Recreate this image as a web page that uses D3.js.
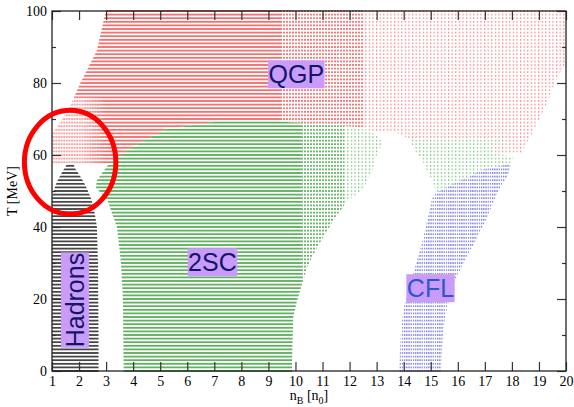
<!DOCTYPE html>
<html>
<head>
<meta charset="utf-8">
<script src="https://cdn.jsdelivr.net/npm/d3@7"></script>
<style>
body { margin: 0; background: #fff; }
svg { display: block; }
</style>
</head>
<body>
<svg id="chart" width="574" height="407"></svg>
<script>
// phase boundaries as outlines, n_B [n_0] and T [MeV]
var qgpN = [3.0, 20, 20, 19.9, 19.6, 19.35, 19.05, 18.75, 18.45, 18.4, 17.3, 17.3, 17.8, 14.2, 13.7, 12.9, 12.3, 11.5, 9.3, 7.2, 6.2, 5.25, 4.4, 3.7, 3.15, 1, 1, 1.6, 2.05, 2.66];
var qgpT = [100.4, 100.4, 86, 84.4, 80.5, 75.2, 70.5, 66, 62, 60.5, 60.5, 62, 64.5, 64.5, 66.3, 66.3, 67.8, 68.2, 69.4, 69.4, 68.3, 67.3, 64, 61, 57.6, 57.6, 66, 72.4, 80, 89];

var scN = [3.65, 3.62, 3.55, 3.4, 3.05, 2.62, 2.66, 3.05, 3.7, 4.4, 5.25, 6.2, 7.2, 9.3, 11.5, 12.3, 12.9, 13.25, 13.0, 12.85, 12.5, 11.9, 11.5, 11.1, 10.74, 10.44, 10.25, 10.06, 9.92, 9.88, 9.87];
var scT = [-0.4, 20, 30, 40, 47.4, 51, 53, 57, 61, 64, 67.3, 68.3, 69.4, 69.4, 68.2, 67.8, 66, 63.5, 60, 56, 50.5, 47, 43, 38.1, 33.5, 28.9, 24.3, 19.6, 15, 5, -0.4];

var scWedgeN = [15.2, 15.1, 14.98, 14.8, 14.7, 14.4, 14.2, 17.8, 17.3, 17.3, 18.1, 17.9, 16.8, 16.46, 15.83, 15.35];
var scWedgeT = [49.5, 52, 54, 56.5, 58.5, 61.3, 64.5, 64.5, 62, 60.5, 59.5, 57.5, 55.7, 54, 52, 50];

var cflN = [13.82, 13.84, 13.91, 14.02, 14.43, 14.6, 14.73, 14.9, 15.06, 15.2, 15.35, 15.83, 16.46, 16.8, 17.9, 17.95, 17.83, 17.65, 17.5, 17.39, 17.09, 16.8, 16.46, 16.2, 15.9, 15.61, 15.47, 15.39, 15.38];
var cflT = [-0.4, 3, 12, 18, 29, 33.5, 37.2, 42.7, 48.3, 49.5, 50, 52, 54, 55.7, 57.5, 57, 54, 52, 50, 48.3, 42.7, 38.2, 33.5, 29.9, 25.2, 18, 12, 3, -0.4];

var hadronN = [1, 1, 1.09, 1.18, 1.31, 1.45, 1.55, 1.8, 1.86, 2.02, 2.17, 2.29, 2.42, 2.54, 2.62, 2.66, 2.7, 2.72, 2.72];
var hadronT = [-0.4, 48.3, 50.7, 52.5, 54.4, 56.2, 57.4, 57.4, 56.2, 54.4, 52.5, 50.7, 48.3, 45.6, 42, 40, 30, 10, -0.4];

var labelText = ["QGP", "2SC", "Hadrons", "CFL"];
var labelN = [10.03, 6.93, 1.85, 14.99];
var labelT = [82.4, 30.2, 19.7, 23.0];

var xTicks = [1, 2, 3, 4, 5, 6, 7, 8, 9, 10, 11, 12, 13, 14, 15, 16, 17, 18, 19, 20];
var yTicks = [0, 20, 40, 60, 80, 100];
var yMinor = [10, 30, 50, 70, 90];

// circled region
var ringN = 1.67, ringT = 58, ringRN = 1.69, ringRT = 14.4;

var serif = "'Liberation Serif', 'Times New Roman', Times, serif";

var svg = d3.select("#chart"),
    margin = {top: 11, right: 8, bottom: 36, left: 52},
    width = +svg.attr("width") - margin.left - margin.right,
    height = +svg.attr("height") - margin.top - margin.bottom,
    g = svg.append("g").attr("transform", "translate(" + margin.left + "," + margin.top + ")");

var x = d3.scaleLinear().domain([1, 20]).range([0, width]);
var y = d3.scaleLinear().domain([0, 100]).range([height, 0]);

var defs = svg.append("defs");
var rowH = y(0) - y(1);

function hatch(id, color, period, dash, thick) {
  var p = defs.append("pattern").attr("id", id)
      .attr("patternUnits", "userSpaceOnUse")
      .attr("x", 0).attr("y", y(0) - rowH / 2)
      .attr("width", period).attr("height", rowH);
  p.append("rect")
      .attr("x", 0).attr("y", rowH / 2 - thick / 2)
      .attr("width", dash).attr("height", thick)
      .attr("fill", color);
}
hatch("redSolid", "#ee3a3a", 6, 6, 1.3);
hatch("redDash", "#ee3a3a", 3, 2, 1.2);
hatch("redDot", "#ee3a3a", 3.6, 1.2, 1.0);
hatch("greenSolid", "#239523", 6, 6, 1.3);
hatch("greenDash", "#239523", 3, 2, 1.2);
hatch("greenDot", "#2a9a2a", 3.6, 1.2, 1.0);
hatch("blueDot", "#3535d5", 2.2, 1.3, 1.1);
hatch("blackSolid", "#111", 6, 6, 1.4);

// white stripes that wash out the red near the hadron tip, fading to the right
var fade = defs.append("pattern").attr("id", "fade")
    .attr("patternUnits", "userSpaceOnUse")
    .attr("width", 2.6).attr("height", 10);
fade.append("rect").attr("width", 2.6).attr("height", 10).attr("fill", "#fff").attr("opacity", 0.3);
fade.append("rect").attr("width", 1.1).attr("height", 10).attr("fill", "#fff").attr("opacity", 0.7);

var grad = defs.append("linearGradient").attr("id", "fadeGrad")
    .attr("x1", 0).attr("x2", 1).attr("y1", 0).attr("y2", 0);
grad.append("stop").attr("offset", 0).attr("stop-color", "#fff");
grad.append("stop").attr("offset", 0.55).attr("stop-color", "#fff");
grad.append("stop").attr("offset", 1).attr("stop-color", "#000");
var mask = defs.append("mask").attr("id", "fadeMask")
    .attr("maskUnits", "userSpaceOnUse")
    .attr("x", 0).attr("y", 0).attr("width", width).attr("height", height);
mask.append("rect")
    .attr("x", x(1)).attr("y", y(76))
    .attr("width", x(3) - x(1)).attr("height", y(57.7) - y(76))
    .attr("fill", "url(#fadeGrad)");

var clipCount = 0;
function band(n0, n1) {
  var id = "band" + (clipCount++);
  defs.append("clipPath").attr("id", id).append("rect")
      .attr("x", x(n0)).attr("y", -5)
      .attr("width", x(n1) - x(n0)).attr("height", height + 10);
  return id;
}

function region(ns, ts, zones) {
  var d = d3.line()(ns.map(function(n, i) { return [x(n), y(ts[i])]; })) + "Z";
  zones.forEach(function(z) {
    g.append("path")
        .attr("d", d)
        .attr("fill", "url(#" + z[2] + ")")
        .attr("clip-path", "url(#" + band(z[0], z[1]) + ")");
  });
}

region(qgpN, qgpT, [[1, 9.5, "redSolid"], [9.5, 12.5, "redDash"], [12.5, 20, "redDot"]]);
region(scN, scT, [[1, 10.2, "greenSolid"], [10.2, 11.8, "greenDash"], [11.8, 20, "greenDot"]]);
region(scWedgeN, scWedgeT, [[1, 20, "greenDot"]]);
region(cflN, cflT, [[1, 20, "blueDot"]]);
region(hadronN, hadronT, [[1, 20, "blackSolid"]]);

g.append("rect")
    .attr("x", x(1)).attr("y", y(76))
    .attr("width", x(3) - x(1)).attr("height", y(57.7) - y(76))
    .attr("fill", "url(#fade)")
    .attr("mask", "url(#fadeMask)");

// axes, ticks pointing inwards
function clean(sel) {
  sel.select(".domain").remove();
  sel.attr("font-family", serif).attr("font-size", 14);
  sel.selectAll("line").attr("stroke", "#333").attr("stroke-width", 1.2);
  sel.selectAll("text").attr("fill", "#000");
}

g.append("g")
    .attr("transform", "translate(0," + height + ")")
    .call(d3.axisBottom(x).tickValues(xTicks).tickSize(-9).tickPadding(5).tickFormat(d3.format("d")))
    .call(clean);
g.append("g")
    .call(d3.axisTop(x).tickValues(xTicks).tickSize(-9).tickFormat(""))
    .call(clean);
g.append("g")
    .call(d3.axisLeft(y).tickValues(yTicks).tickSize(-9).tickPadding(5).tickFormat(d3.format("d")))
    .call(clean);
g.append("g")
    .call(d3.axisLeft(y).tickValues(yMinor).tickSize(-4).tickFormat(""))
    .call(clean);
g.append("g")
    .attr("transform", "translate(" + width + ",0)")
    .call(d3.axisRight(y).tickValues(yTicks).tickSize(-9).tickFormat(""))
    .call(clean);
g.append("g")
    .attr("transform", "translate(" + width + ",0)")
    .call(d3.axisRight(y).tickValues(yMinor).tickSize(-4).tickFormat(""))
    .call(clean);

g.append("rect")
    .attr("width", width).attr("height", height)
    .attr("fill", "none").attr("stroke", "#222").attr("stroke-width", 1.3);

// axis titles
svg.append("text")
    .attr("transform", "translate(17," + (margin.top + y(50)) + ") rotate(-90)")
    .attr("text-anchor", "middle")
    .attr("font-family", serif).attr("font-size", 14)
    .text("T [MeV]");

var xt = svg.append("text")
    .attr("x", margin.left + width / 2).attr("y", 400)
    .attr("text-anchor", "middle")
    .attr("font-family", serif).attr("font-size", 14);
xt.append("tspan").text("n");
xt.append("tspan").attr("dy", 4).attr("font-size", 10).text("B");
xt.append("tspan").attr("dy", -4).text(" [n");
xt.append("tspan").attr("dy", 4).attr("font-size", 10).text("0");
xt.append("tspan").attr("dy", -4).text("]");

// phase labels on lavender boxes
labelText.forEach(function(t, i) {
  var lg = g.append("g")
      .attr("transform", "translate(" + x(labelN[i]) + "," + y(labelT[i]) + ")" + (t === "Hadrons" ? " rotate(-90)" : ""));
  var txt = lg.append("text")
      .attr("text-anchor", "middle")
      .attr("dominant-baseline", "central")
      .attr("font-family", "'Liberation Sans', Arial, sans-serif")
      .attr("font-size", 25)
      .attr("fill", t === "CFL" ? "#3355cc" : "#151565")
      .text(t);
  var b = txt.node().getBBox();
  lg.insert("rect", "text")
      .attr("x", b.x - 0.5).attr("y", b.y)
      .attr("width", b.width + 1).attr("height", b.height)
      .attr("fill", "#c99cfc");
});

g.append("ellipse")
    .attr("cx", x(ringN)).attr("cy", y(ringT))
    .attr("rx", x(1 + ringRN) - x(1)).attr("ry", y(0) - y(ringRT))
    .attr("fill", "none").attr("stroke", "#ff0000").attr("stroke-width", 5);
</script>
</body>
</html>
